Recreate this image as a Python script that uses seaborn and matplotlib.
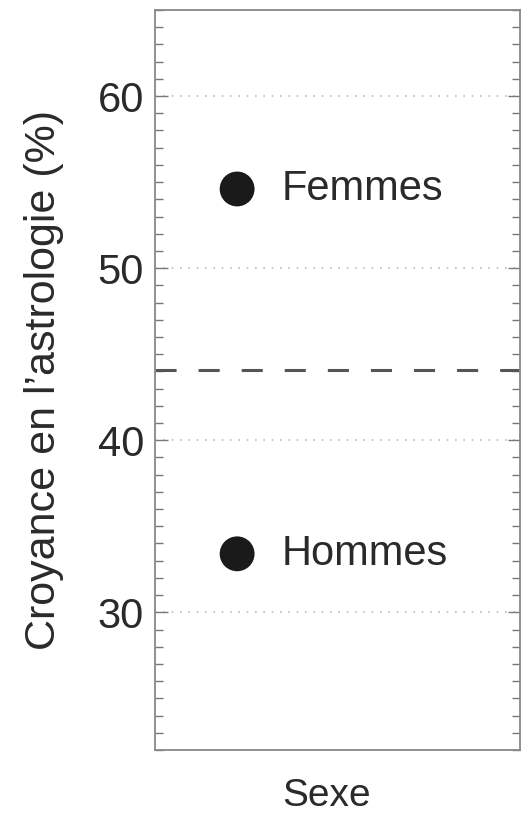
import seaborn as sns
import matplotlib.pyplot as plt
from matplotlib.ticker import MultipleLocator

# data
groups = ['Femmes', 'Hommes']
belief = [54.6, 33.4]
overall = 44.1
xpos = [0, 0]

sns.set_style('white')
plt.rcParams['font.family'] = ['Liberation Sans', 'DejaVu Sans']

fig = plt.figure(figsize=(5.25, 8.23), dpi=100)
ax = fig.add_axes([155 / 525, 1 - 750 / 823, 365 / 525, 740 / 823])

sns.scatterplot(x=xpos, y=belief, ax=ax, s=630, color='#1a1a1a', edgecolor='none', zorder=3)
for x, y, g in zip(xpos, belief, groups):
    ax.text(x + 0.245, y, g, fontsize=30, va='center', ha='left', color='#2a2a2a')

# overall average, dashed
ax.axhline(overall, color='#555555', lw=2.2, ls=(0, (6.9, 7.2)), zorder=2)

ax.set_xlim(-0.45, 1.55)
ax.set_ylim(22, 65)
ax.yaxis.set_major_locator(MultipleLocator(10))
ax.yaxis.set_minor_locator(MultipleLocator(1))
ax.grid(axis='y', which='major', color='#bbbbbb', ls=(0, (1, 4)), lw=1.2)
ax.set_xticks([])
ax.tick_params(axis='y', which='both', direction='in', left=True, right=True,
               color='#777777')
ax.tick_params(axis='y', which='major', length=9, width=1, pad=8,
               labelsize=30, labelcolor='#2a2a2a')
ax.tick_params(axis='y', which='minor', length=6, width=1)
for sp in ax.spines.values():
    sp.set_color('#888888')
    sp.set_linewidth(1.3)

ax.set_xlabel('Sexe', fontsize=28, color='#2a2a2a')
ax.xaxis.set_label_coords(0.47, -0.038)
ax.set_ylabel('Croyance en l\u2019astrologie (%)', fontsize=31, color='#2a2a2a')
ax.yaxis.set_label_coords(-0.25, 0.5)

fig.savefig('out.png', dpi=100)
